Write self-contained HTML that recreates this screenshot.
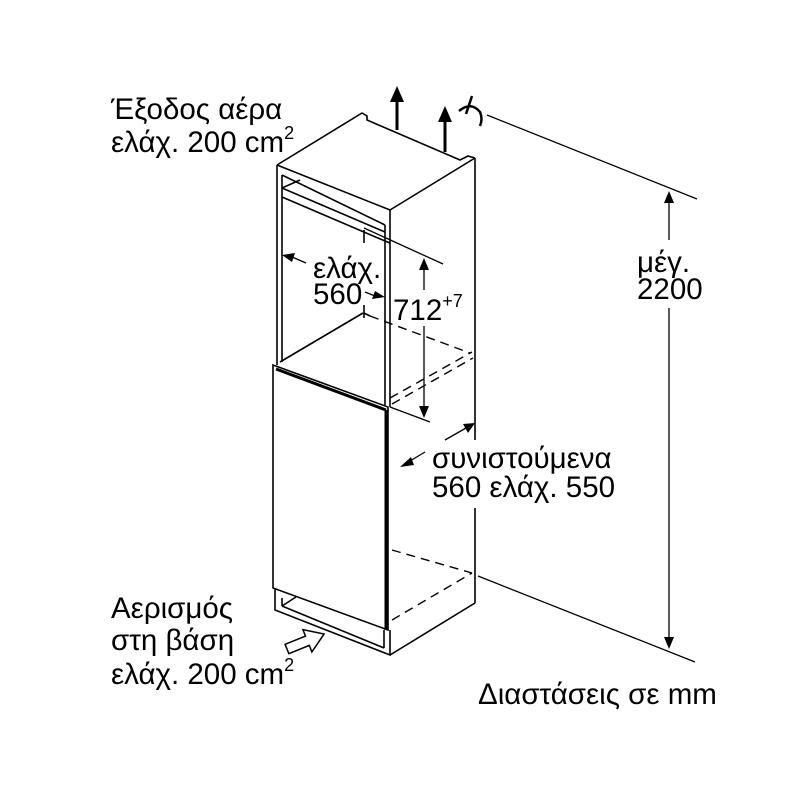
<!DOCTYPE html>
<html><head><meta charset="utf-8"><style>
html,body{margin:0;padding:0;background:#fff;width:800px;height:801px;overflow:hidden}
svg text{font-family:"Liberation Sans","DejaVu Sans",sans-serif;fill:#000}
</style></head><body>
<svg width="800" height="801" viewBox="0 0 800 801" xmlns="http://www.w3.org/2000/svg">
<g fill="none" stroke="#000" stroke-width="1.6" stroke-linejoin="miter">
<polyline points="277,165 362,113 367,116 367,120 460,160 468,156 475,158"/>
<line x1="277" y1="165" x2="390" y2="210"/>
<line x1="390" y1="210" x2="475" y2="158"/>
<line x1="475" y1="158" x2="475" y2="440"/>
<line x1="475" y1="508" x2="475" y2="603"/>
<line x1="475" y1="603" x2="390" y2="655"/>
<line x1="277" y1="165" x2="277" y2="365"/>
<line x1="282" y1="175" x2="282" y2="362"/>
<line x1="390" y1="210" x2="390" y2="407"/>
<line x1="385" y1="225" x2="385" y2="405"/>
<line x1="282" y1="175" x2="385" y2="225"/>
<line x1="282" y1="188" x2="385" y2="232"/>
<line x1="282" y1="197" x2="385" y2="241"/>
<line x1="282" y1="188" x2="300" y2="180"/>
<line x1="385" y1="241" x2="390" y2="243"/>
<line x1="280" y1="362" x2="363" y2="313"/>
<line x1="364" y1="230" x2="364" y2="243"/>
<line x1="364" y1="305" x2="364" y2="318"/>
<line x1="364" y1="313" x2="370" y2="316"/>
<polygon points="273,365 388,407 388,630 273,588"/>
<line x1="276" y1="369" x2="386" y2="410" stroke-width="3"/>
<line x1="386" y1="410" x2="386" y2="630" stroke-width="3"/>
<polyline points="275,588 275,610 390,655 390,630"/>
<line x1="282" y1="598" x2="282" y2="606"/>
<line x1="282" y1="606" x2="384" y2="648"/>
<line x1="282" y1="606" x2="296" y2="597"/>
<line x1="384" y1="630" x2="384" y2="648"/>
<g stroke-dasharray="9,6" stroke-width="1.4">
<line x1="370" y1="316" x2="470" y2="353"/>
<line x1="390" y1="398" x2="472" y2="352"/>
<line x1="392" y1="404" x2="473" y2="358"/>
<line x1="392" y1="550" x2="472" y2="573"/>
<line x1="392" y1="620" x2="472" y2="573"/>
</g>
<line x1="364" y1="228" x2="443" y2="264" stroke-width="1.3"/>
<line x1="390" y1="407" x2="430" y2="422" stroke-width="1.3"/>
<line x1="424" y1="268" x2="424" y2="290" stroke-width="1.3"/>
<line x1="424" y1="326" x2="424" y2="408" stroke-width="1.3"/>
<line x1="292" y1="257" x2="306" y2="263" stroke-width="1.3"/>
<line x1="365" y1="292" x2="375" y2="296" stroke-width="1.3"/>
<line x1="445" y1="440" x2="466" y2="428" stroke-width="1.3"/>
<line x1="410" y1="461" x2="425" y2="452" stroke-width="1.3"/>
<line x1="487" y1="115" x2="697" y2="199" stroke-width="1.3"/>
<line x1="478" y1="576" x2="695" y2="662" stroke-width="1.3"/>
<line x1="669" y1="200" x2="669" y2="240" stroke-width="1.3"/>
<line x1="669" y1="308" x2="669" y2="640" stroke-width="1.3"/>
<line x1="397" y1="130" x2="397" y2="100" stroke-width="3"/>
<line x1="445" y1="152" x2="445" y2="120" stroke-width="3"/>
<line x1="472" y1="96" x2="466" y2="114" stroke-width="2.5"/>
<path d="M459,111 Q471,101 480,112 Q483,119 480,126" stroke-width="2.5"/>
<g transform="translate(287,649) rotate(-22)">
<polygon points="0,-5 22,-5 22,-12 40,0 22,12 22,5 0,5" fill="#fff" stroke-width="1.5"/>
</g>
</g>
<g fill="#000">
<polygon points="390,102 397,86 404,102"/>
<polygon points="438,122 445,106 452,122"/>
<polygon points="424,258 419,270 429,270"/>
<polygon points="424,418 419,406 429,406"/>
<polygon points="282,255 295,253 292,262"/>
<polygon points="385,297 372,299 375,291"/>
<polygon points="475,423 463,424 468,433"/>
<polygon points="400,467 411,457 414,465"/>
<polygon points="669,191 664,203 674,203"/>
<polygon points="669,649 664,637 674,637"/>
</g>
<g font-size="29.5">
<text x="111" y="119">Έξοδος αέρα</text>
<text x="111" y="152">ελάχ. 200 cm<tspan font-size="18" dy="-13">2</tspan></text>
<text x="313" y="278">ελάχ.</text>
<text x="313" y="304">560</text>
<text x="393" y="320">712<tspan font-size="18" dy="-13">+7</tspan></text>
<text x="637" y="272">μέγ.</text>
<text x="637" y="299">2200</text>
<text x="432" y="468">συνιστούμενα</text>
<text x="432" y="497">560 ελάχ. 550</text>
<text x="111" y="618">Αερισμός</text>
<text x="111" y="650">στη βάση</text>
<text x="111" y="684">ελάχ. 200 cm<tspan font-size="18" dy="-13">2</tspan></text>
<text x="478" y="704">Διαστάσεις σε mm</text>
</g>
</svg>
</body></html>
